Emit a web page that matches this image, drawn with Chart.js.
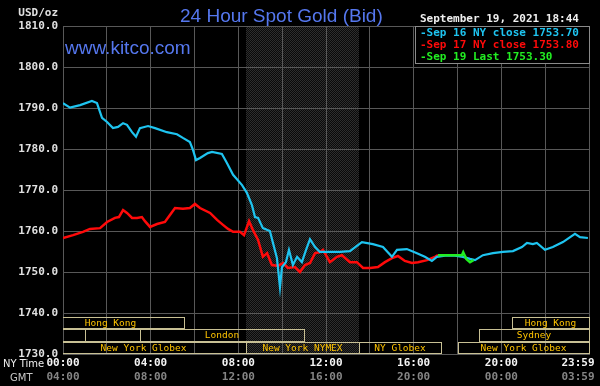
<!DOCTYPE html>
<html>
<head>
<meta charset="utf-8">
<script src="https://cdn.jsdelivr.net/npm/chart.js@4.4.0/dist/chart.umd.min.js"></script>
<style>
  body { margin: 0; background: #000; }
  canvas { display: block; }
</style>
</head>
<body>
<canvas id="goldChart" width="600" height="386"></canvas>
<script>
// NY time in hours from midnight, prices in USD/oz
const sep16Hours = [0, 0.32, 0.78, 1.32, 1.55, 1.78, 2.01, 2.28, 2.51, 2.74, 2.92, 3.15, 3.33, 3.51, 3.88, 4.2, 4.74, 5.2, 5.47, 5.79,
  5.93, 6.07, 6.25, 6.61, 6.8, 7.25, 7.48, 7.76, 8.17, 8.39, 8.62, 8.76, 8.9, 9.12, 9.44, 9.58, 9.76, 9.9, 9.99, 10.17,
  10.31, 10.49, 10.68, 10.9, 11.09, 11.27, 11.5, 11.72, 12.18, 12.64, 13.09, 13.64, 14.14, 14.6, 15.01, 15.24, 15.69, 16.15, 16.51, 16.83,
  17.06, 17.43, 17.88, 18.25, 18.57, 18.8, 19.16, 19.62, 20.07, 20.53, 20.94, 21.17, 21.44, 21.62, 21.99, 22.35, 22.81, 23.36, 23.59, 23.95];
const sep16Prices = [1791.2, 1790.1, 1790.7, 1791.7, 1791.2, 1787.6, 1786.6, 1785.1, 1785.4, 1786.3, 1785.9, 1784.1, 1783.0, 1785.1, 1785.6, 1785.1, 1784.1, 1783.6, 1782.7, 1781.7,
  1779.8, 1777.3, 1777.8, 1779.0, 1779.3, 1778.8, 1776.6, 1773.7, 1771.2, 1769.3, 1766.3, 1763.4, 1763.2, 1760.7, 1760.0, 1757.1, 1753.4, 1746.3, 1751.2, 1752.4,
  1755.4, 1751.7, 1753.7, 1752.4, 1755.4, 1758.0, 1756.1, 1754.9, 1754.9, 1754.9, 1755.1, 1757.3, 1756.8, 1756.1, 1753.7, 1755.4, 1755.6, 1754.6, 1753.7, 1752.7,
  1753.7, 1754.0, 1754.0, 1753.7, 1753.2, 1752.9, 1754.1, 1754.6, 1754.9, 1755.1, 1756.1, 1757.1, 1756.8, 1757.1, 1755.4, 1756.1, 1757.3, 1759.3, 1758.5, 1758.3];

const sep17Hours = [0, 0.46, 0.91, 1.23, 1.69, 2.01, 2.37, 2.55, 2.74, 2.92, 3.15, 3.38, 3.6, 3.74, 3.97, 4.29, 4.65, 4.88, 5.11, 5.47,
  5.79, 6.02, 6.25, 6.71, 7.03, 7.3, 7.53, 7.76, 8.07, 8.26, 8.49, 8.67, 8.9, 9.12, 9.31, 9.53, 9.81, 10.04, 10.26, 10.58,
  10.81, 11.04, 11.27, 11.5, 11.72, 11.86, 12.18, 12.5, 12.73, 13.09, 13.41, 13.69, 14.01, 14.37, 14.69, 15.01, 15.28, 15.6, 15.92, 16.2,
  16.61, 16.97, 17.11];
const sep17Prices = [1758.3, 1759.0, 1759.8, 1760.5, 1760.7, 1762.2, 1763.2, 1763.4, 1765.1, 1764.4, 1763.2, 1763.2, 1763.4, 1762.4, 1761.0, 1761.7, 1762.2, 1763.9, 1765.6, 1765.4,
  1765.6, 1766.6, 1765.6, 1764.4, 1762.7, 1761.5, 1760.5, 1759.8, 1759.8, 1759.0, 1762.4, 1760.2, 1757.8, 1753.7, 1754.6, 1751.7, 1751.5, 1752.2, 1751.0, 1751.2,
  1750.0, 1751.7, 1752.2, 1754.6, 1754.8, 1755.4, 1752.4, 1753.7, 1754.1, 1752.4, 1752.4, 1751.0, 1751.0, 1751.2, 1752.4, 1753.4, 1753.9, 1752.7, 1752.2, 1752.4,
  1752.9, 1753.7, 1754.1];

const sep19Hours = [17.11, 18.2, 18.26, 18.4, 18.57, 18.73];
const sep19Prices = [1754.1, 1754.1, 1754.8, 1753.2, 1752.4, 1752.9];

const seriesLabels = ['Sep 16 NY close 1753.70', 'Sep 17 NY close 1753.80', 'Sep 19 Last 1753.30'];
const seriesColors = ['#1ec4f0', '#ff0a0a', '#22ee22'];

const gridHours = [0, 2, 4, 6, 8, 10, 12, 14, 16, 18, 20, 22, 24];
const labelHours = [0, 4, 8, 12, 16, 20, 23.5];
const nyTimeLabels = ['00:00', '04:00', '08:00', '12:00', '16:00', '20:00', '23:59'];
const gmtTimeLabels = ['04:00', '08:00', '12:00', '16:00', '20:00', '00:00', '03:59'];

// NYMEX pit hours shaded
const shadeHours = [8.33, 13.5];

// trading sessions: [row, start, end, name]
const sessions = [
  [0, -1.2, 5.5, 'Hong Kong'],
  [0, 20.5, 24, 'Hong Kong'],
  [1, -5, 1, ''],
  [1, 1, 3.5, ''],
  [1, 3.5, 11, 'London'],
  [1, 19, 24, 'Sydney'],
  [2, -1, 8.33, 'New York Globex'],
  [2, 8.33, 13.5, 'New York NYMEX'],
  [2, 13.5, 17.25, 'NY Globex'],
  [2, 18, 24, 'New York Globex']
];

const mono = "'DejaVu Sans Mono', monospace";

function toPoints(hours, prices) {
  return hours.map((h, i) => ({ x: h, y: prices[i] }));
}

function shadePattern(ctx) {
  const c = document.createElement('canvas');
  c.width = 2; c.height = 2;
  const p = c.getContext('2d');
  p.fillStyle = '#0a0a0a';
  p.fillRect(0, 0, 2, 2);
  p.fillStyle = '#2e2e2e';
  p.fillRect(0, 0, 1, 1);
  p.fillRect(1, 1, 1, 1);
  return ctx.createPattern(c, 'repeat');
}

const decor = {
  id: 'decor',
  beforeDraw(chart) {
    const { ctx, chartArea: a, scales: { x } } = chart;
    ctx.save();
    ctx.fillStyle = '#000';
    ctx.fillRect(0, 0, chart.width, chart.height);
    const x0 = x.getPixelForValue(shadeHours[0]);
    const x1 = x.getPixelForValue(shadeHours[1]);
    ctx.fillStyle = shadePattern(ctx);
    ctx.fillRect(Math.round(x0), a.top, Math.round(x1 - x0), a.bottom - a.top);
    ctx.restore();
  },
  afterDraw(chart) {
    const { ctx, chartArea: a, scales: { x } } = chart;
    ctx.save();

    // session boxes
    const rowTop = [a.bottom - 37, a.bottom - 25, a.bottom - 12];
    const rowH = [11, 12, 11];
    ctx.beginPath();
    ctx.rect(a.left, a.top, a.right - a.left + 1, a.bottom - a.top + 1);
    ctx.clip();
    ctx.lineWidth = 1;
    ctx.strokeStyle = '#c8c094';
    ctx.font = '9.5px ' + mono;
    ctx.textAlign = 'center';
    ctx.textBaseline = 'middle';
    sessions.forEach(([row, s, e, name]) => {
      const x0 = Math.round(x.getPixelForValue(s));
      const x1 = Math.round(x.getPixelForValue(e));
      ctx.strokeRect(x0 + 0.5, rowTop[row] + 0.5, x1 - x0, rowH[row]);
      if (name) {
        ctx.fillStyle = '#ffc400';
        ctx.fillText(name, (x0 + x1) / 2, rowTop[row] + rowH[row] / 2 + 1);
      }
    });
    ctx.restore();
    ctx.save();

    // legend box
    const lx = a.right - 174, ly = a.top;
    ctx.fillStyle = '#000';
    ctx.fillRect(lx, ly, 175, 37);
    ctx.strokeStyle = '#8a8a8a';
    ctx.lineWidth = 1;
    ctx.strokeRect(lx + 0.5, ly + 0.5, 174, 37);
    ctx.font = 'bold 11px ' + mono;
    ctx.textAlign = 'left';
    ctx.textBaseline = 'middle';
    chart.data.datasets.slice().sort((p, q) => seriesLabels.indexOf(p.label) - seriesLabels.indexOf(q.label)).forEach((ds, i) => {
      ctx.fillStyle = ds.borderColor;
      ctx.fillText('-' + ds.label, lx + 5, ly + 7 + i * 12);
    });

    // header texts
    ctx.fillStyle = '#f0f0f0';
    ctx.fillText('September 19, 2021 18:44', lx + 5, 19);
    ctx.textAlign = 'right';
    ctx.fillStyle = '#e0e0e0';
    ctx.fillText('USD/oz', 58, 13);

    ctx.textAlign = 'left';
    ctx.textBaseline = 'alphabetic';
    ctx.fillStyle = '#5577ee';
    ctx.font = "19px 'Liberation Sans', Arial, sans-serif";
    ctx.fillText('24 Hour Spot Gold (Bid)', 180, 21.5);
    ctx.fillText('www.kitco.com', 65, 53.5);

    ctx.font = "10px 'DejaVu Sans', sans-serif";
    ctx.textBaseline = 'middle';
    ctx.fillStyle = '#eeeeee';
    ctx.fillText('NY Time', 3, 364);
    ctx.fillStyle = '#c8c8c8';
    ctx.fillText('GMT', 10, 378);
    ctx.restore();
  }
};

const grid = '#585858';

new Chart(document.getElementById('goldChart'), {
  type: 'line',
  data: {
    datasets: [
      { label: seriesLabels[2], data: toPoints(sep19Hours, sep19Prices), borderColor: seriesColors[2], borderWidth: 2.5, order: 0 },
      { label: seriesLabels[0], data: toPoints(sep16Hours, sep16Prices), borderColor: seriesColors[0], borderWidth: 2.2, order: 1 },
      { label: seriesLabels[1], data: toPoints(sep17Hours, sep17Prices), borderColor: seriesColors[1], borderWidth: 2.5, order: 2 }
    ]
  },
  options: {
    responsive: false,
    animation: false,
    devicePixelRatio: 1,
    layout: { padding: { top: 26, right: 11, left: 0, bottom: 0 } },
    elements: { point: { radius: 0 }, line: { tension: 0 } },
    plugins: { legend: { display: false }, tooltip: { enabled: false } },
    scales: {
      x: {
        type: 'linear', position: 'bottom', min: 0, max: 24, weight: 0,
        afterBuildTicks: s => { s.ticks = gridHours.map(v => ({ value: v })); },
        afterFit: s => { s.height = 0; s.paddingLeft = 0; s.paddingRight = 0; },
        ticks: { display: false },
        grid: { color: grid, drawTicks: false },
        border: { color: grid }
      },
      xny: {
        type: 'linear', position: 'bottom', min: 0, max: 24, weight: 1,
        afterBuildTicks: s => { s.ticks = labelHours.map(v => ({ value: v })); },
        afterFit: s => { s.height = 14; s.paddingLeft = 0; s.paddingRight = 0; },
        ticks: {
          padding: 3, maxRotation: 0, autoSkip: false, color: '#f4f4f4',
          font: { family: mono, size: 11, weight: 'bold' },
          callback: (v) => nyTimeLabels[labelHours.indexOf(v)]
        },
        grid: { display: false, drawTicks: false },
        border: { display: false }
      },
      xgmt: {
        type: 'linear', position: 'bottom', min: 0, max: 24, weight: 2,
        afterBuildTicks: s => { s.ticks = labelHours.map(v => ({ value: v })); },
        afterFit: s => { s.height = 18; s.paddingLeft = 0; s.paddingRight = 0; },
        ticks: {
          padding: 3, maxRotation: 0, autoSkip: false, color: '#858585',
          font: { family: mono, size: 11, weight: 'bold' },
          callback: (v) => gmtTimeLabels[labelHours.indexOf(v)]
        },
        grid: { display: false, drawTicks: false },
        border: { display: false }
      },
      y: {
        position: 'left', min: 1730, max: 1810,
        afterFit: s => { s.width = 63; },
        ticks: {
          stepSize: 10, padding: 5, color: '#e0e0e0',
          font: { family: mono, size: 11, weight: 'bold' },
          callback: v => v.toFixed(1)
        },
        grid: { color: grid, drawTicks: false },
        border: { color: grid }
      }
    }
  },
  plugins: [decor]
});
</script>
</body>
</html>
